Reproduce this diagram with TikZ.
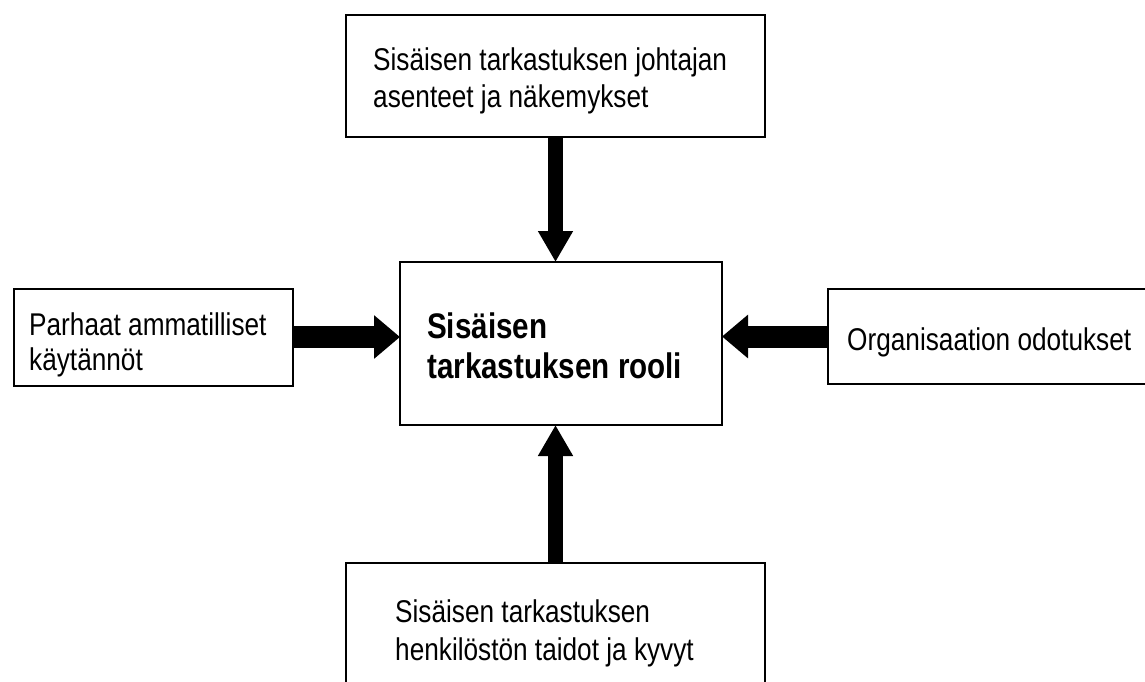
\documentclass[tikz,border=0pt]{standalone}
\usepackage{fontspec}
\usepackage{graphicx}
\setmainfont{Liberation Sans}
\usetikzlibrary{arrows.meta}
% slightly elongated lettering
\newcommand{\tall}[1]{\scalebox{1}[1.2]{#1}}
\tikzset{
  box/.style={draw=black, line width=2.8pt, inner sep=0pt, outer sep=0pt},
  txt/.style={anchor=base west, inner sep=0pt, font=\fontsize{26.2}{30}\selectfont},
  boldtxt/.style={txt, font=\fontsize{29.6}{34}\selectfont\bfseries},
  vflow/.style={line width=15pt, -{Triangle[length=31pt,width=33pt]}},
  hflow/.style={line width=22pt, -{Triangle[length=26pt,width=42pt]}},
}
\begin{document}
\begin{tikzpicture}[x=1pt,y=-1pt]
\useasboundingbox (0,0) rectangle (1145,681);

% boxes
\node[box, minimum width=419pt, minimum height=122pt] (topbox) at (555.5,76) {};
\node[box, minimum width=322pt, minimum height=163pt] (role) at (561,343.5) {};
\node[box, minimum width=279pt, minimum height=97pt] (leftbox) at (153.5,337.5) {};
\node[box, minimum width=340pt, minimum height=95pt] (rightbox) at (998,336.5) {};
\node[box, minimum width=419pt, minimum height=150pt] (botbox) at (555.5,638) {};

% texts
\node[txt] (t1) at (373,70) {\tall{Sisäisen tarkastuksen johtajan}};
\node[txt] (t2) at (373,107) {\tall{asenteet ja näkemykset}};
\node[txt] (l1) at (29,335) {\tall{Parhaat ammatilliset}};
\node[txt] (l2) at (29,370) {\tall{käytännöt}};
\node[txt] (r1) at (847,350) {\tall{Organisaation odotukset}};
\node[txt] (b1) at (395,622) {\tall{Sisäisen tarkastuksen}};
\node[txt] (b2) at (395,660) {\tall{henkilöstön taidot ja kyvyt}};
\node[boldtxt] (c1) at (427,338) {\tall{Sisäisen}};
\node[boldtxt] (c2) at (427,378) {\tall{tarkastuksen rooli}};

% arrows
\coordinate (hl) at (0,337);
\coordinate (hr) at (0,336.5);
\draw[vflow] (topbox.south) -- (role.north -| topbox.south);
\draw[vflow] (botbox.north) -- (role.south -| botbox.north);
\draw[hflow] (leftbox.east |- hl) -- (role.west |- hl);
\draw[hflow] (rightbox.west |- hr) -- (role.east |- hr);
\end{tikzpicture}
\end{document}
